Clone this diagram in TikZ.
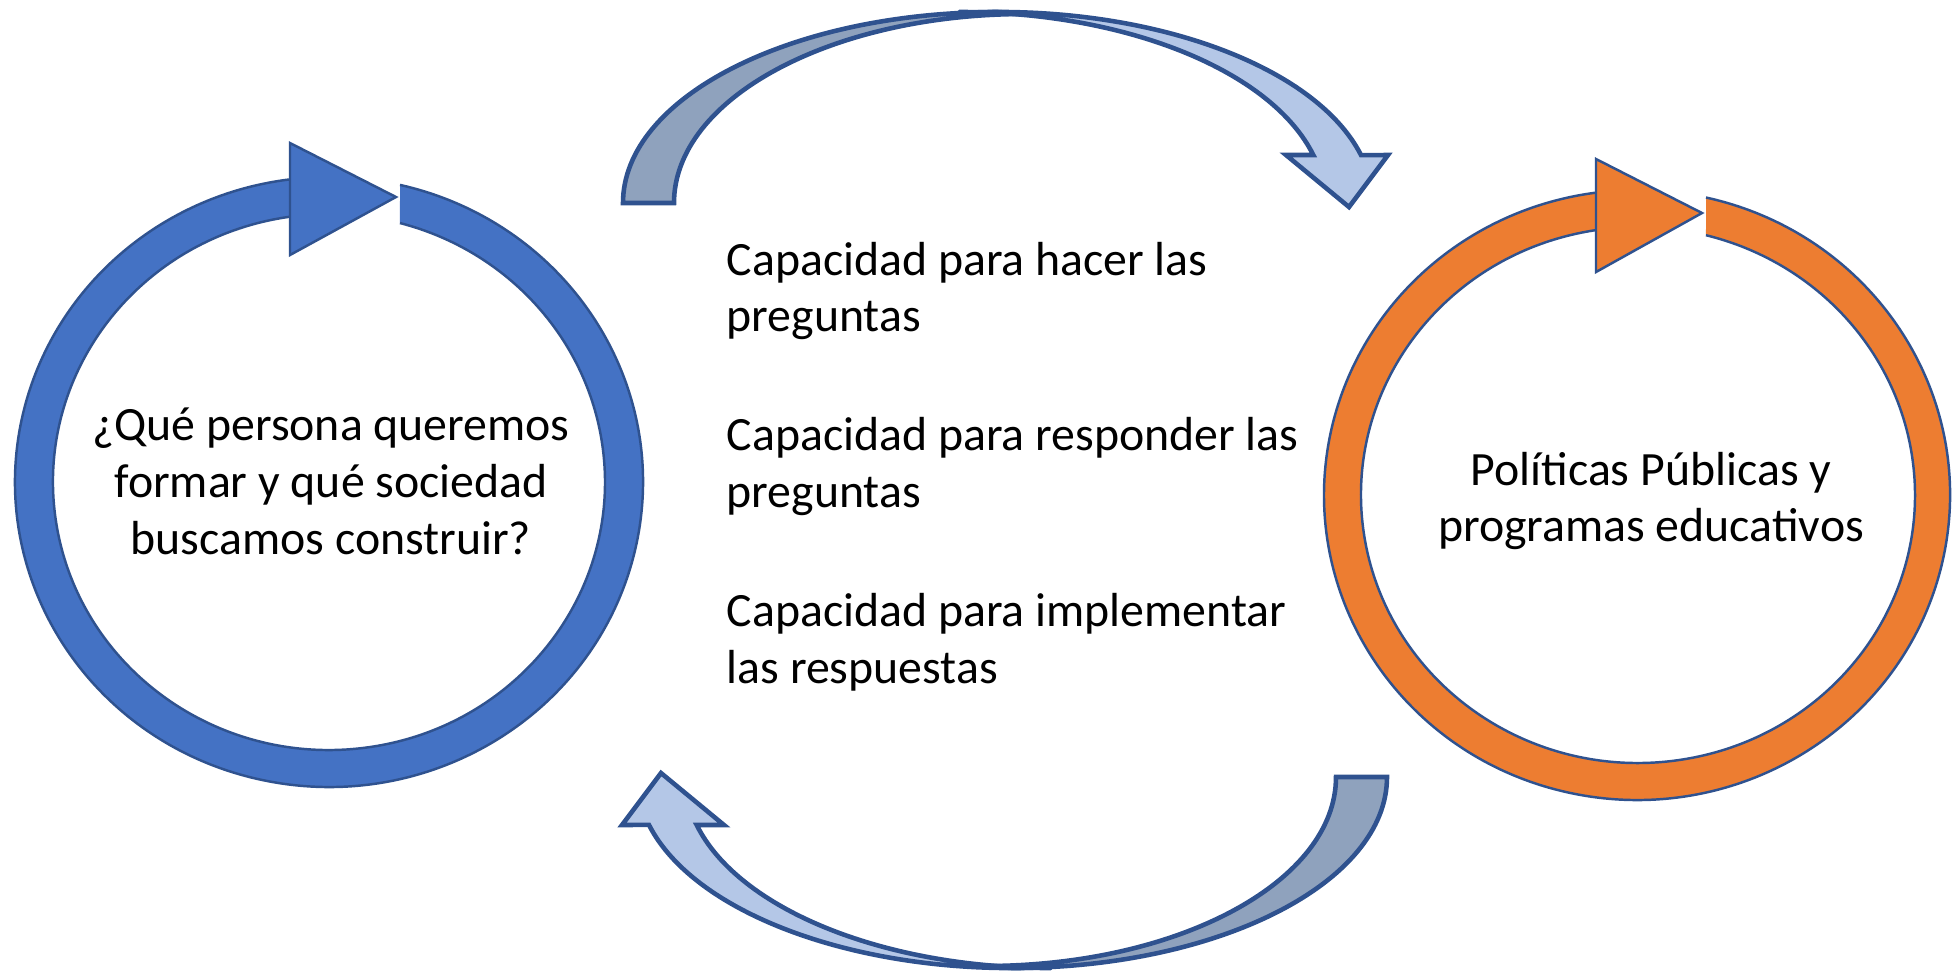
\documentclass[tikz,border=0pt]{standalone}
\usepackage{fontspec}
\setmainfont{Carlito}
\usepackage{tikz}
\usetikzlibrary{positioning}
\usepackage{xcolor}

\definecolor{azul}{HTML}{4472C4}
\definecolor{naranja}{HTML}{ED7D31}
\definecolor{borde}{HTML}{2F528F}
\definecolor{claro}{HTML}{B4C7E7}
\definecolor{oscuro}{HTML}{8FA2BD}

\newcommand{\flechacurva}{%
  \filldraw[flecha, fill=claro] (958.8,13) arc[start angle=-96, end angle=-14.5, x radius=375, y radius=191]
    -- (1388,155) -- (1349,207) -- (1286,155) -- (1313.3,155)
    arc[start angle=-14.55, end angle=-90, x radius=365, y radius=191] -- cycle;
  \filldraw[flecha, fill=oscuro] (623,203) arc[start angle=180, end angle=270, x radius=375, y radius=191]
    -- (1025,14) arc[start angle=270, end angle=180, x radius=351, y radius=189] -- cycle;
}

\begin{document}
\begin{tikzpicture}[x=0.1mm, y=-0.1mm,
    font=\fontsize{13.6}{16.2}\selectfont,
    anillo/.style={draw=borde, line width=0.7pt},
    flecha/.style={draw=borde, line width=1.3pt},
    texto/.style={align=flush left, text width=6.2cm, inner sep=0pt}]

\useasboundingbox (0,0) rectangle (1952,971);

\fill[azul] (400,184.9) arc[start angle=-76.93, end angle=262.87, x radius=314, y radius=305]
    -- (290,216.7) arc[start angle=261.88, end angle=-75.09, x radius=276, y radius=268] -- cycle;
\draw[anillo] (400,184.9) arc[start angle=-76.93, end angle=262.87, x radius=314, y radius=305];
\draw[anillo] (290,216.7) arc[start angle=261.88, end angle=-75.09, x radius=276, y radius=268];
\filldraw[anillo, fill=azul] (290,143) -- (396,197) -- (290,255) -- cycle;

\fill[naranja] (1706,197.5) arc[start angle=-77.27, end angle=262.47, x radius=313, y radius=305]
    -- (1596,230.1) arc[start angle=261.28, end angle=-75.79, x radius=277, y radius=268] -- cycle;
\draw[anillo] (1706,197.5) arc[start angle=-77.27, end angle=262.47, x radius=313, y radius=305];
\draw[anillo] (1596,230.1) arc[start angle=261.28, end angle=-75.79, x radius=277, y radius=268];
\filldraw[anillo, fill=naranja] (1596,159) -- (1702,213) -- (1596,272) -- cycle;

\flechacurva
\begin{scope}[rotate around={180:(1005,490)}]
\flechacurva
\end{scope}

\node[align=center] (persona) at (331,481) {¿Qué persona queremos\\formar y qué sociedad\\buscamos construir?};
\node[align=center] (politicas) at (1651,501) {Políticas Públicas y\\programas educativos};

\node[texto, anchor=west] (cap1) at (726,291) {Capacidad para hacer las\\preguntas};
\node[texto, below=7.6mm of cap1] (cap2) {Capacidad para responder las\\preguntas};
\node[texto, below=7.6mm of cap2] (cap3) {Capacidad para implementar\\las respuestas};

\end{tikzpicture}
\end{document}
